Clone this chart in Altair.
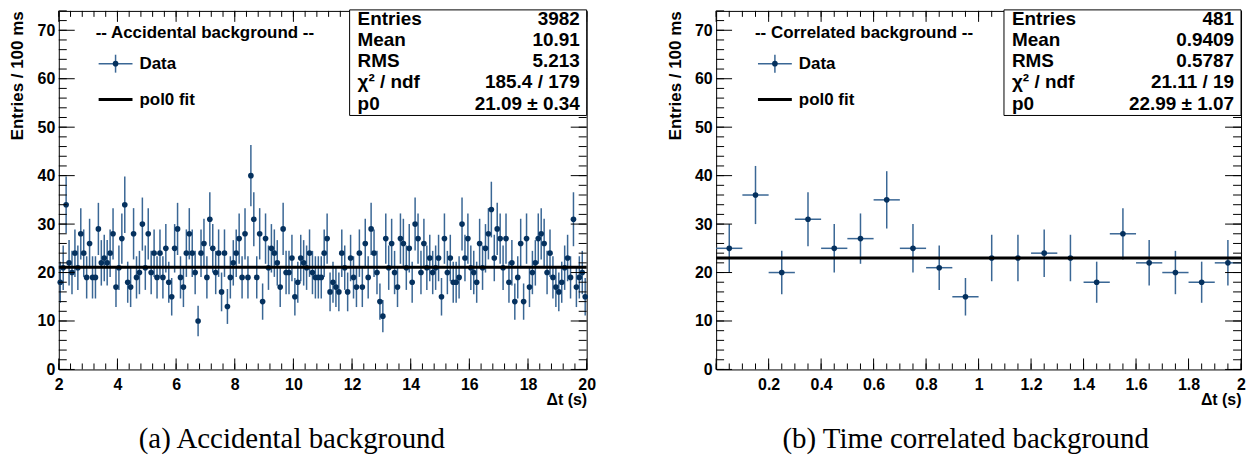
import math
import altair as alt
import numpy as np
import pandas as pd

# ---------------- data ----------------
# (a) accidental background: 180 bins of 0.1 s between 2 s and 20 s
acc_counts = [18, 21, 34, 22, 20, 24, 21, 28, 24, 19,
              26, 19, 19, 29, 22, 23, 22, 24, 28, 17,
              21, 27, 34, 18, 17, 28, 19, 20, 30, 21,
              28, 20, 24, 19, 24, 19, 25, 18, 15, 25,
              29, 19, 17, 24, 28, 24, 20, 10, 24, 26,
              19, 31, 25, 20, 24, 16, 24, 13, 19, 22,
              24, 27, 19, 28, 19, 40, 31, 19, 28, 14,
              27, 21, 25, 24, 22, 17, 29, 20, 20, 23,
              15, 18, 23, 22, 21, 24, 20, 19, 19, 19,
              24, 27, 16, 18, 17, 16, 24, 21, 16, 23,
              19, 17, 24, 17, 26, 19, 29, 24, 20, 14,
              11, 27, 21, 26, 20, 17, 27, 26, 21, 25,
              18, 30, 27, 20, 26, 21, 23, 20, 21, 23,
              15, 27, 20, 23, 18, 18, 19, 30, 23, 27,
              21, 20, 18, 26, 21, 25, 28, 33, 23, 29,
              27, 21, 27, 18, 22, 14, 19, 26, 14, 27,
              17, 20, 22, 27, 28, 26, 20, 24, 19, 17,
              16, 18, 21, 23, 19, 31, 17, 19, 20, 15]
acc_range = [2.0, 20.0]
acc_fit = 21.09

# (b) time correlated background: 20 bins of 0.1 s between 0 s and 2 s
cor_counts = [25, 36, 20, 31, 25, 27, 35, 25, 21, 15,
              23, 23, 24, 23, 18, 28, 22, 20, 18, 22]
cor_range = [0.0, 2.0]
cor_fit = 22.99

bin_width = 0.1

stat_labels = ["Entries", "Mean", "RMS", "\u03c7\u00b2 / ndf", "p0"]
acc_stat_values = ["3982", "10.91", "5.213", "185.4 / 179", "21.09 \u00b1 0.34"]
cor_stat_values = ["481", "0.9409", "0.5787", "21.11 / 19", "22.99 \u00b1 1.07"]

acc_legend_title = "-- Accidental background --"
cor_legend_title = "-- Correlated background --"
legend_entries = ["Data", "pol0 fit"]

acc_caption = "(a) Accidental background"
cor_caption = "(b) Time correlated background"

acc_xlabels = [2, 4, 6, 8, 10, 12, 14, 16, 18, 20]
cor_xlabels = [0.2, 0.4, 0.6, 0.8, 1.0, 1.2, 1.4, 1.6, 1.8, 2.0]
y_labels = [0, 10, 20, 30, 40, 50, 60, 70]
y_max = 74

x_title = "\u0394t (s)"
y_title = "Entries / 100 ms"

# ---------------- style ----------------
SANS = "Liberation Sans"
SERIF = "Liberation Serif"
DOT = "#05315e"
BAR = "#3a6795"
H = 360


def make_panel(counts, xr, fit, stat_values, legend_title, caption,
               W, xlabels, xfmt, major_step, minor_step, leg_dx, cap_dx):
    n = np.array(counts, dtype=float)
    lo = xr[0] + np.arange(len(counts)) * bin_width
    df = pd.DataFrame({
        "x": lo + bin_width / 2,
        "lo": lo,
        "hi": lo + bin_width,
        "n": n,
        "elo": n - np.sqrt(n),
        "ehi": n + np.sqrt(n),
    })
    xs = alt.Scale(domain=list(xr), nice=False, zero=False)
    ys = alt.Scale(domain=[0, y_max], nice=False, zero=False)

    xaxis = alt.Axis(values=xlabels, format=xfmt, ticks=False,
                     domain=False, grid=False, labelFlush=False,
                     labelOverlap=False, labelFont=SANS, labelFontSize=16,
                     labelFontWeight="bold", labelColor="black",
                     labelPadding=7, title=x_title, titleFont=SANS,
                     titleFontSize=16, titleFontWeight="bold",
                     titleColor="black", titleAnchor="end", titleY=30,
                     titleBaseline="middle")
    yaxis = alt.Axis(values=y_labels, format="d", ticks=False,
                     domain=False, grid=False, labelFlush=False,
                     labelOverlap=False, labelFont=SANS, labelFontSize=16,
                     labelFontWeight="bold", labelColor="black",
                     labelPadding=4, title=y_title, titleFont=SANS,
                     titleFontSize=17, titleFontWeight="bold",
                     titleColor="black", titleAnchor="end", titleX=-41,
                     titleBaseline="middle")

    one = pd.DataFrame({"k": [0]})

    vbars = alt.Chart(df).mark_rule(color=BAR, strokeWidth=1.5).encode(
        x=alt.X("x:Q", scale=xs, axis=xaxis),
        y=alt.Y("elo:Q", scale=ys, axis=yaxis),
        y2="ehi:Q")
    hbars = alt.Chart(df).mark_rule(color=BAR, strokeWidth=1.5).encode(
        x=alt.X("lo:Q", scale=xs), x2="hi:Q",
        y=alt.Y("n:Q", scale=ys))
    pts = alt.Chart(df).mark_circle(size=32, color=DOT, opacity=1).encode(
        x=alt.X("x:Q", scale=xs),
        y=alt.Y("n:Q", scale=ys))
    fitdf = pd.DataFrame({"a": [xr[0]], "b": [xr[1]], "p0": [fit]})
    fitline = alt.Chart(fitdf).mark_rule(color="black", strokeWidth=3).encode(
        x=alt.X("a:Q", scale=xs), x2="b:Q",
        y=alt.Y("p0:Q", scale=ys))

    # inward ticks on all four sides
    xmaj = pd.DataFrame({"t": np.round(np.arange(xr[0], xr[1] + 1e-9, major_step), 4)})
    xmin = pd.DataFrame({"t": np.round(np.arange(xr[0], xr[1] + 1e-9, minor_step), 4)})
    ymaj = pd.DataFrame({"t": np.arange(0, y_max + 1e-9, 10)})
    ymin = pd.DataFrame({"t": np.arange(0, y_max + 1e-9, 2)})

    def xt(d, y0, y1):
        return alt.Chart(d).mark_rule(color="black", strokeWidth=1).encode(
            x=alt.X("t:Q", scale=xs),
            y=alt.value(y0), y2=alt.value(y1))

    def yt(d, x0, x1):
        return alt.Chart(d).mark_rule(color="black", strokeWidth=1).encode(
            y=alt.Y("t:Q", scale=ys),
            x=alt.value(x0), x2=alt.value(x1))

    ticks = [xt(xmaj, H, H - 11), xt(xmin, H, H - 6),
             xt(xmaj, 0, 11), xt(xmin, 0, 6),
             yt(ymaj, 0, 16), yt(ymin, 0, 8),
             yt(ymaj, W, W - 16), yt(ymin, W, W - 8)]

    # stats box
    bx = W - 238
    box = alt.Chart(one).mark_rect(fill="white", stroke="black",
                                   strokeWidth=1).encode(
        x=alt.value(bx), x2=alt.value(W), y=alt.value(-1), y2=alt.value(105))
    sdf = pd.DataFrame({"lab": ["\n".join(stat_labels)],
                        "val": ["\n".join(stat_values)]})
    slab = alt.Chart(sdf).mark_text(align="left", baseline="middle",
                                    lineBreak="\n", lineHeight=21.3,
                                    font=SANS, fontSize=19, fontWeight="bold",
                                    color="black").encode(
        x=alt.value(bx + 8), y=alt.value(8), text="lab:N")
    sval = alt.Chart(sdf).mark_text(align="right", baseline="middle",
                                    lineBreak="\n", lineHeight=21.3,
                                    font=SANS, fontSize=19, fontWeight="bold",
                                    color="black").encode(
        x=alt.value(W - 7), y=alt.value(8), text="val:N")

    # legend
    lx = 37 + leg_dx
    ltitle = alt.Chart(pd.DataFrame({"s": [legend_title]})).mark_text(
        align="left", baseline="middle", font=SANS, fontSize=17,
        fontWeight="bold", color="black").encode(
        x=alt.value(lx), y=alt.value(22), text="s:N")
    mh = alt.Chart(one).mark_rule(color=BAR, strokeWidth=1.5).encode(
        x=alt.value(lx + 3), x2=alt.value(lx + 37), y=alt.value(53))
    mv = alt.Chart(one).mark_rule(color=BAR, strokeWidth=1.5).encode(
        x=alt.value(lx + 20), y=alt.value(44), y2=alt.value(62))
    md = alt.Chart(one).mark_circle(size=32, color=DOT, opacity=1).encode(
        x=alt.value(lx + 20), y=alt.value(53))
    ml = alt.Chart(one).mark_rule(color="black", strokeWidth=3).encode(
        x=alt.value(lx + 3), x2=alt.value(lx + 37), y=alt.value(89))
    ldf = pd.DataFrame({"s": legend_entries, "k": [0, 1]})
    ltext = alt.Chart(ldf.iloc[[0]]).mark_text(
        align="left", baseline="middle", font=SANS, fontSize=17,
        fontWeight="bold", color="black").encode(
        x=alt.value(lx + 44), y=alt.value(53), text="s:N")
    ltext2 = alt.Chart(ldf.iloc[[1]]).mark_text(
        align="left", baseline="middle", font=SANS, fontSize=17,
        fontWeight="bold", color="black").encode(
        x=alt.value(lx + 44), y=alt.value(89), text="s:N")

    layers = [vbars, hbars, pts, fitline] + ticks + [
        box, slab, sval, ltitle, mh, mv, md, ml, ltext, ltext2]
    return alt.layer(*layers).properties(
        width=W, height=H,
        title=alt.TitleParams(caption, orient="bottom", anchor="middle",
                              font=SERIF, fontSize=29, fontWeight="normal",
                              color="black", offset=18, dx=cap_dx))


left = make_panel(acc_counts, acc_range, acc_fit, acc_stat_values,
                  acc_legend_title, acc_caption, 530, acc_xlabels, "d",
                  2.0, 0.4, 0, -31)
right = make_panel(cor_counts, cor_range, cor_fit, cor_stat_values,
                   cor_legend_title, cor_caption, 527, cor_xlabels, ".1~f",
                   0.2, 0.05, 2, -13)

chart = alt.hconcat(left, right, spacing=69).properties(
    padding=0, background="white"
).configure_view(stroke="black", strokeWidth=1)

chart.save("out.html", embed_options={"renderer": "svg", "actions": False})
